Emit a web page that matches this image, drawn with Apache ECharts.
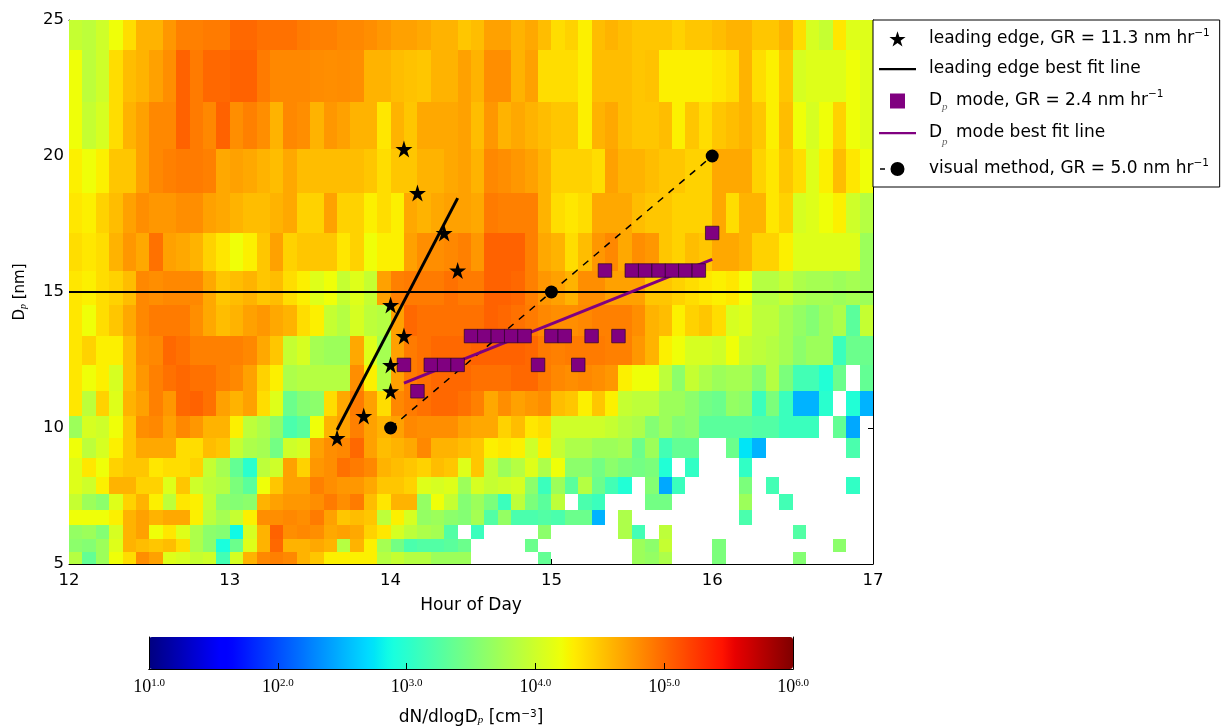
<!DOCTYPE html>
<html><head><meta charset="utf-8">
<style>html,body{margin:0;padding:0;background:#fff}#c{width:1224px;height:728px}</style>
<script src="https://cdn.jsdelivr.net/npm/echarts@6/dist/echarts.min.js"></script>
</head><body><div id="c"></div>
<script>
const _ = null;
// Size-bin edges in nm, top to bottom; the top bin is cut by the axis at 25
const yEdges = [25,23.88,21.98,20.26,18.64,17.17,15.79,14.52,13.38,12.32,11.35,10.44,9.63,8.9,8.2,7.56,6.97,6.42,5.92,5.45,5];
const xStart = 12, binsPerHour = 12;
// log10(dN/dlogDp), one array per size bin, 60 five-minute columns
const r01=[3.95,3.9,4.0,4.2,4.38,4.6,4.6,4.75,4.87,4.87,4.9,4.9,5.0,5.0,4.95,4.95,4.95,4.9,4.87,4.87,4.83,4.83,4.8,4.75,4.7,4.7,4.66,4.6,4.6,4.5,4.55,4.7,4.7,4.6,4.66,4.55,4.38,4.44,4.28,4.55,4.6,4.55,4.5,4.5,4.5,4.44,4.5,4.5,4.55,4.6,4.6,4.5,4.5,4.6,4.38,4.05,3.95,4.33,4.1,4.1];
const r02=[4.2,3.9,4.0,4.38,4.55,4.6,4.7,4.8,5.03,4.9,5.0,5.0,5.03,5.03,4.9,4.83,4.83,4.83,4.81,4.8,4.81,4.8,4.6,4.6,4.55,4.52,4.5,4.6,4.6,4.7,4.6,4.8,4.8,4.6,4.7,4.38,4.38,4.38,4.28,4.55,4.55,4.55,4.5,4.52,4.28,4.28,4.28,4.28,4.33,4.38,4.6,4.38,4.28,4.5,4.05,4.1,4.1,4.1,4.2,4.1];
const r03=[4.2,3.95,4.05,4.38,4.6,4.7,4.83,4.83,5.03,4.9,4.83,5.03,4.8,4.87,4.8,4.6,4.83,4.8,4.6,4.75,4.7,4.6,4.6,4.33,4.6,4.5,4.66,4.66,4.66,4.7,4.55,4.75,4.6,4.66,4.6,4.55,4.5,4.5,4.28,4.6,4.66,4.55,4.5,4.5,4.55,4.28,4.5,4.38,4.5,4.55,4.6,4.5,4.28,4.55,4.2,4.05,4.2,4.44,4.2,4.1];
const r04=[4.28,4.2,4.28,4.5,4.5,4.7,4.83,4.87,4.9,4.9,4.87,4.66,4.7,4.66,4.6,4.55,4.66,4.55,4.55,4.55,4.55,4.55,4.5,4.38,4.5,4.5,4.6,4.6,4.66,4.7,4.6,4.83,4.8,4.75,4.7,4.6,4.44,4.44,4.44,4.38,4.7,4.6,4.6,4.55,4.5,4.5,4.44,4.44,4.66,4.66,4.66,4.44,4.33,4.5,4.38,4.1,4.28,4.55,4.33,4.2];
const r05=[4.33,4.28,4.44,4.55,4.7,4.8,4.75,4.75,4.8,4.8,4.7,4.66,4.6,4.55,4.55,4.6,4.66,4.44,4.44,4.7,4.44,4.44,4.28,4.38,4.28,4.66,4.6,4.66,4.7,4.7,4.66,4.9,4.87,4.87,4.87,4.6,4.38,4.33,4.38,4.66,4.66,4.66,4.55,4.5,4.5,4.44,4.44,4.44,4.66,4.38,4.6,4.6,4.33,4.44,4.05,4.1,4.2,4.28,4.0,3.85];
const r06=[4.38,4.33,4.38,4.6,4.75,4.66,4.95,4.7,4.66,4.6,4.44,4.33,4.2,4.28,4.5,4.7,4.44,4.5,4.5,4.5,4.33,4.44,4.2,4.28,4.28,4.7,4.8,4.8,4.83,4.87,4.75,5.03,5.03,5.03,4.87,4.66,4.6,4.38,4.55,4.75,4.83,4.66,4.8,4.75,4.5,4.44,4.55,4.5,4.66,4.66,4.6,4.44,4.44,4.28,4.1,4.1,4.1,4.1,4.1,3.7];
const r07=[4.33,4.28,4.38,4.44,4.55,4.83,4.8,4.83,4.83,4.83,4.66,4.5,4.55,4.6,4.5,4.55,4.38,4.28,4.1,4.2,3.95,4.1,3.95,4.7,4.87,4.9,4.9,4.9,4.95,4.9,4.9,5.03,5.03,5.0,4.87,4.75,4.7,4.6,4.8,4.8,4.7,4.7,4.7,4.5,4.5,4.44,4.38,4.33,4.28,4.33,4.2,3.85,3.85,3.95,3.8,3.75,3.75,3.7,3.75,3.7];
const r08=[4.33,4.2,4.38,4.5,4.66,4.83,4.9,4.9,4.9,4.8,4.66,4.55,4.6,4.7,4.75,4.66,4.6,4.38,4.28,3.95,3.85,4.05,3.9,3.85,4.7,5.0,4.95,4.95,4.95,4.95,4.95,5.03,5.0,4.95,4.9,4.83,4.8,4.8,4.83,4.87,4.87,4.87,4.8,4.6,4.55,4.28,4.44,4.5,4.38,4.05,4.1,3.9,3.9,3.75,3.65,3.55,3.7,3.8,3.3,3.95];
const r09=[4.33,4.44,4.28,4.28,4.55,4.8,4.83,5.0,4.95,4.87,4.87,4.87,4.87,4.83,4.66,4.5,3.95,4.05,3.75,3.7,3.7,4.66,4.1,3.75,4.7,4.9,4.95,5.0,5.0,5.0,5.03,5.03,5.03,5.03,5.0,4.9,4.87,4.9,4.9,4.9,4.87,4.87,4.75,4.6,4.28,4.2,4.05,4.05,4.0,4.2,3.95,3.9,3.85,3.75,3.6,3.7,3.7,3.1,3.4,3.4];
const r10=[4.33,4.2,4.28,4.05,4.55,4.75,4.87,4.95,5.0,4.95,4.95,4.87,4.83,4.7,4.44,4.28,3.8,3.85,3.85,3.85,3.85,4.8,4.28,3.85,4.7,4.9,4.95,5.0,5.0,5.0,4.95,4.95,4.95,5.0,5.0,4.9,4.83,4.8,4.83,4.8,4.75,4.28,4.2,4.2,3.9,3.6,3.95,3.8,3.7,3.75,3.75,3.55,3.85,3.5,3.15,3.15,2.95,3.4,_,3.35];
const r11=[4.33,3.9,4.44,4.1,4.6,4.7,4.87,4.75,5.0,5.03,4.95,4.7,4.6,4.7,4.38,4.1,3.4,3.55,3.6,4.38,4.66,4.9,4.7,4.38,4.83,4.9,4.95,5.0,5.0,4.95,4.87,4.66,4.8,4.7,4.75,4.8,4.55,4.5,4.28,4.5,4.28,3.95,3.9,3.9,3.7,3.7,3.6,3.45,3.4,3.65,3.6,3.1,3.5,3.1,2.5,2.5,3.0,_,2.95,2.5];
const r12=[3.7,4.05,4.0,4.2,4.5,4.8,4.83,4.7,4.83,4.75,4.6,4.6,4.28,3.9,3.8,3.6,3.2,3.3,4.2,4.6,4.7,4.87,4.7,4.6,4.7,4.83,4.8,4.8,4.8,4.7,4.66,4.66,4.44,4.55,4.33,4.38,4.0,4.0,4.0,4.0,3.95,3.85,3.8,3.55,3.7,3.55,3.6,3.3,3.3,3.3,3.3,3.25,3.25,3.1,3.1,3.1,_,3.35,2.45,_];
const r13=[4.2,3.9,4.05,4.28,4.5,4.66,4.66,4.66,4.38,4.38,4.55,4.5,3.95,3.8,3.75,3.45,4.0,4.05,4.7,4.8,4.83,5.0,4.7,4.55,4.6,4.66,4.83,4.6,4.6,4.55,4.5,4.28,4.33,4.28,4.0,4.28,3.95,3.8,3.8,3.7,3.7,3.75,3.4,3.7,3.15,3.35,3.35,_,_,3.4,2.75,2.5,_,_,_,_,_,_,3.2,_];
const r14=[4.1,4.33,4.2,4.44,4.5,4.5,4.33,4.38,4.38,4.44,3.95,3.75,3.35,3.0,3.9,4.0,4.7,4.44,4.75,4.8,4.95,4.9,4.83,4.6,4.55,4.5,4.44,4.55,4.5,4.1,4.5,3.95,3.7,3.85,4.1,3.8,4.2,3.6,3.6,3.45,3.6,3.5,3.45,3.5,2.95,_,3.05,_,_,_,3.05,_,_,_,_,_,_,_,_,_];
const r15=[4.1,4.0,4.28,4.6,4.6,4.44,4.44,4.1,4.5,4.0,3.9,3.85,3.5,3.3,4.2,4.5,4.7,4.7,4.87,4.8,4.75,4.75,4.66,4.5,4.5,4.44,4.1,4.05,4.1,3.7,4.05,3.95,4.0,4.05,3.6,3.1,3.7,3.3,3.85,3.4,3.15,2.95,_,3.55,2.45,3.1,_,_,_,_,3.5,_,3.15,_,_,_,_,_,3.05,_];
const r16=[3.95,3.7,3.6,4.1,4.44,4.6,4.28,3.9,4.33,4.28,3.95,3.6,3.55,3.6,4.6,4.7,4.75,4.75,4.8,4.9,4.8,4.9,4.55,4.33,4.6,4.6,3.65,4.2,3.95,3.55,3.7,3.5,3.1,3.9,3.5,3.3,3.9,_,3.2,3.1,_,_,_,3.45,3.45,_,_,_,_,_,3.7,_,_,3.15,_,_,_,_,_,_];
const r17=[4.2,4.2,4.2,4.28,4.6,4.7,4.6,4.66,4.66,4.28,3.9,3.75,3.95,4.28,4.8,4.8,4.83,4.8,4.9,4.7,4.5,4.55,4.5,3.9,4.28,4.05,3.65,3.7,3.6,3.55,3.75,3.25,3.65,3.2,3.2,3.25,3.2,3.4,3.4,2.5,_,3.8,_,_,_,_,_,_,_,_,3.2,_,_,_,_,_,_,_,_,_];
const r18=[3.65,3.7,3.55,4.05,4.6,4.7,4.2,4.33,4.1,3.8,3.6,3.55,2.85,4.05,4.6,5.03,4.8,4.83,4.8,4.66,4.7,4.66,4.44,4.33,4.05,3.9,3.8,3.75,3.25,_,3.1,_,_,_,_,3.6,_,_,_,_,_,3.8,3.15,_,3.9,_,_,_,_,_,_,_,_,_,3.25,_,_,_,_,_];
const r19=[3.6,3.55,3.7,4.1,4.6,4.55,4.5,4.55,4.38,3.8,3.6,2.9,3.4,4.1,4.6,5.0,4.6,4.6,4.66,4.6,3.85,4.6,4.28,3.75,3.45,3.2,3.25,3.25,3.3,3.4,_,_,_,_,3.4,_,_,_,_,_,_,_,3.7,3.6,3.95,_,_,_,3.5,_,_,_,_,_,_,_,_,3.6,_,_];
const r20=[3.85,3.35,3.7,4.2,4.38,4.8,4.7,4.1,4.05,3.95,4.0,3.15,4.05,4.6,4.83,4.87,4.83,4.6,4.5,4.28,4.28,4.28,4.28,3.85,3.95,3.85,3.85,3.7,3.7,3.7,_,_,_,_,_,3.35,_,_,_,_,_,_,3.7,3.65,3.8,_,_,_,3.5,_,_,_,_,_,3.55,_,_,_,_,_];
const rows=[r01,r02,r03,r04,r05,r06,r07,r08,r09,r10,r11,r12,r13,r14,r15,r16,r17,r18,r19,r20];

const leadingEdge=[[13.667,9.63],[13.833,10.44],[14,11.35],[14,12.32],[14.083,13.38],[14,14.52],[14.417,15.79],[14.333,17.17],[14.167,18.64],[14.083,20.26]];
const leadingFit=[[13.667,9.93],[14.417,18.45]];
const modePoints=[[14.083,12.32],[14.167,11.35],[14.25,12.32],[14.333,12.32],[14.417,12.32],[14.5,13.38],[14.583,13.38],[14.667,13.38],[14.75,13.38],[14.833,13.38],[14.917,12.32],[15,13.38],[15.083,13.38],[15.167,12.32],[15.25,13.38],[15.417,13.38],[15.333,15.79],[15.5,15.79],[15.583,15.79],[15.667,15.79],[15.75,15.79],[15.833,15.79],[15.917,15.79],[16,17.17]];
const modeFit=[[14.083,11.65],[16,16.2]];
const visualPoints=[[14,10],[15,15],[16,20]];
const refLine=[[12,15],[17,15]];

const cells=[];
rows.forEach((row,r)=>row.forEach((v,c)=>{
  if(v!==null) cells.push([xStart+c/binsPerHour,xStart+(c+1)/binsPerHour,yEdges[r+1],yEdges[r],v]);
}));

// matplotlib jet
function seg(pts,t){for(let i=1;i<pts.length;i++){if(t<=pts[i][0]){const a=pts[i-1],b=pts[i];return a[1]+(b[1]-a[1])*(t-a[0])/(b[0]-a[0]);}}return pts[pts.length-1][1];}
const R=[[0,0],[.35,0],[.66,1],[.89,1],[1,.5]],G=[[0,0],[.125,0],[.375,1],[.64,1],[.91,0],[1,0]],B=[[0,.5],[.11,1],[.34,1],[.65,0],[1,0]];
const jet=[];for(let i=0;i<=100;i++){const t=i/100;jet.push('rgb('+[R,G,B].map(s=>Math.round(seg(s,t)*255)).join(',')+')');}

const starPts='M50 0 L61.8 36.3 L100 36.3 L69.1 58.8 L80.9 95.1 L50 72.6 L19.1 95.1 L30.9 58.8 L0 36.3 L38.2 36.3 Z';
const star='path://'+starPts;
const starIcon='path://M-12 -14L-12 -14M112 110L112 110'+starPts;
const squareIcon='path://M0 0L0 0M20 20L20 20M2.5 2.5H17.5V17.5H2.5Z';
const lineIcon='path://M0 0L0 0M37 20L37 20M0 9H37V11.2H0Z';
const dotIcon='path://M0 0L0 0M37 20L37 20M1 9.3H6V10.7H1ZM25.5 10A7 7 0 1 1 11.5 10A7 7 0 1 1 25.5 10Z';
const FONT='DejaVu Sans', TICK=16.5, LABEL=17;
const names=['leading edge, GR = 11.3 nm hr','leading edge best fit line','Dp mode, GR = 2.4 nm hr','Dp mode best fit line','visual method, GR = 5.0 nm hr'];
const legendFmt={};
legendFmt[names[0]]='{a|leading edge, GR = 11.3 nm hr}{s|−1}';
legendFmt[names[1]]='{a|leading edge best fit line}';
legendFmt[names[2]]='{b|D}{q|p}{b| mode, GR = 2.4 nm hr}{s|−1}';
legendFmt[names[3]]='{c|D}{r|p}{c| mode best fit line}';
legendFmt[names[4]]='{a|visual method, GR = 5.0 nm hr}{s|−1}';

const frame={lineStyle:{color:'#000',width:1}};
const inTick={inside:true,length:5,lineStyle:{color:'#000'}};
const opt={
 animation:false,backgroundColor:'#fff',
 grid:[{left:69,top:20,width:804,height:544},{left:149,top:637,width:644,height:32}],
 xAxis:[
  {type:'value',gridIndex:0,min:12,max:17,interval:1,position:'bottom',axisLine:frame,axisTick:inTick,splitLine:{show:false},
   axisLabel:{color:'#000',fontFamily:FONT,fontSize:TICK,margin:8},
   name:'Hour of Day',nameLocation:'middle',nameGap:33,nameTextStyle:{color:'#000',fontFamily:FONT,fontSize:LABEL}},
  {type:'value',gridIndex:0,min:12,max:17,interval:1,position:'top',axisLine:frame,axisTick:inTick,splitLine:{show:false},axisLabel:{show:false}},
  {type:'value',gridIndex:1,min:1,max:6,interval:1,position:'bottom',z:10,axisLine:frame,axisTick:{inside:true,length:6,lineStyle:{color:'#000'}},splitLine:{show:false},
   axisLabel:{margin:9,hideOverlap:false,showMinLabel:true,showMaxLabel:true,formatter:v=>'{b|10}{s|'+v.toFixed(1)+'}',rich:{b:{fontFamily:'Liberation Serif',fontSize:18,color:'#000'},s:{fontFamily:'Liberation Serif',fontSize:11,color:'#000',verticalAlign:'top',padding:[0,0,6,0]}}},
   name:'{a|dN/dlogD}{p|p}{a| [cm}{s|−3}{a|]}',nameLocation:'middle',nameGap:40,nameTextStyle:{rich:{a:{fontFamily:FONT,fontSize:LABEL,color:'#000'},p:{fontFamily:'Liberation Serif',fontStyle:'italic',fontSize:11,color:'#000',verticalAlign:'bottom',padding:[5,0,0,0]},s:{fontFamily:FONT,fontSize:10.5,color:'#000',verticalAlign:'top',padding:[0,0,6,0]}}}},
  {type:'value',gridIndex:1,min:1,max:6,position:'top',z:10,axisLine:frame,axisTick:{show:false},axisLabel:{show:false},splitLine:{show:false}}
 ],
 yAxis:[
  {type:'value',gridIndex:0,min:5,max:25,interval:5,position:'left',axisLine:frame,axisTick:inTick,splitLine:{show:false},
   axisLabel:{color:'#000',fontFamily:FONT,fontSize:TICK,margin:5},
   name:'{a|D}{p|p}{a| [nm]}',nameLocation:'middle',nameGap:41,nameTextStyle:{rich:{a:{fontFamily:FONT,fontSize:15,color:'#000'},p:{fontFamily:'Liberation Serif',fontStyle:'italic',fontSize:10,color:'#000',verticalAlign:'bottom',padding:[5,0,0,0]}}}},
  {type:'value',gridIndex:0,min:5,max:25,interval:5,position:'right',axisLine:frame,axisTick:inTick,splitLine:{show:false},axisLabel:{show:false}},
  {type:'value',gridIndex:1,min:0,max:1,position:'left',z:10,axisLine:{show:true,lineStyle:{color:'#000',width:1}},axisTick:{show:false},axisLabel:{show:false},splitLine:{show:false}},
  {type:'value',gridIndex:1,min:0,max:1,position:'right',z:10,axisLine:{show:true,lineStyle:{color:'#000',width:1}},axisTick:{show:false},axisLabel:{show:false},splitLine:{show:false}}
 ],
 visualMap:{type:'continuous',min:1,max:6,dimension:4,seriesIndex:0,orient:'horizontal',left:149,top:637,itemWidth:32,itemHeight:644,padding:0,calculable:false,text:null,showLabel:false,realtime:false,hoverLink:false,inRange:{color:jet},outOfRange:{color:'#fff'}},
 legend:{orient:'vertical',left:873,top:20,backgroundColor:'#fff',borderColor:'#000',borderWidth:1,padding:[8,10,8,6],itemGap:10,itemWidth:37,itemHeight:20,align:'left',z:20,selectedMode:false,
  data:[{name:names[0],icon:starIcon},{name:names[1],icon:lineIcon},{name:names[2],icon:squareIcon,itemStyle:{borderWidth:0}},{name:names[3],icon:lineIcon},{name:names[4],icon:dotIcon}],
  formatter:n=>legendFmt[n],
  textStyle:{padding:[0,0,0,8],rich:{
   a:{fontFamily:FONT,fontSize:LABEL,lineHeight:22,color:'#000'},
   b:{fontFamily:FONT,fontSize:LABEL,lineHeight:24,color:'#000'},
   c:{fontFamily:FONT,fontSize:LABEL,lineHeight:30,color:'#000'},
   s:{fontFamily:FONT,fontSize:10.5,color:'#000',verticalAlign:'top'},
   q:{fontFamily:'Liberation Serif',fontStyle:'italic',fontSize:11,color:'#666',verticalAlign:'bottom',lineHeight:24,padding:[0,3,0,0]},
   r:{fontFamily:'Liberation Serif',fontStyle:'italic',fontSize:11,color:'#666',verticalAlign:'bottom',lineHeight:30,padding:[0,3,0,0]}
  }}},
 series:[
  {type:'custom',name:'dN/dlogDp',xAxisIndex:0,yAxisIndex:0,data:cells,encode:{x:[0,1],y:[2,3]},clip:true,silent:true,z:1,
   renderItem:(params,api)=>{
    const a=api.coord([api.value(0),api.value(3)]),b=api.coord([api.value(1),api.value(2)]);
    const x=Math.round(a[0]),y=Math.round(a[1]);
    return {type:'rect',shape:{x,y,width:Math.round(b[0])-x,height:Math.round(b[1])-y},style:{fill:api.visual('color')}};
   }},
  {type:'line',name:'y15',xAxisIndex:0,yAxisIndex:0,data:refLine,symbol:'none',silent:true,z:2,lineStyle:{color:'#000',width:2}},
  {type:'line',name:names[4],xAxisIndex:0,yAxisIndex:0,data:visualPoints,symbol:'circle',symbolSize:13,showSymbol:true,z:3,itemStyle:{color:'#000'},lineStyle:{color:'#000',width:1.5,type:[7,7]}},
  {type:'line',name:names[1],xAxisIndex:0,yAxisIndex:0,data:leadingFit,symbol:'none',z:4,itemStyle:{color:'#000'},lineStyle:{color:'#000',width:3}},
  {type:'line',name:names[3],xAxisIndex:0,yAxisIndex:0,data:modeFit,symbol:'none',z:4,itemStyle:{color:'#800080'},lineStyle:{color:'#800080',width:3}},
  {type:'scatter',name:names[2],xAxisIndex:0,yAxisIndex:0,data:modePoints,symbol:'rect',symbolSize:13.5,z:5,itemStyle:{color:'#800080',opacity:1,borderColor:'#2a002a',borderWidth:0.7}},
  {type:'scatter',name:names[0],xAxisIndex:0,yAxisIndex:0,data:leadingEdge,symbol:star,symbolSize:17,z:6,itemStyle:{color:'#000',opacity:1}}
 ]
};
const chart=echarts.init(document.getElementById('c'));
chart.setOption(opt);
</script></body></html>
